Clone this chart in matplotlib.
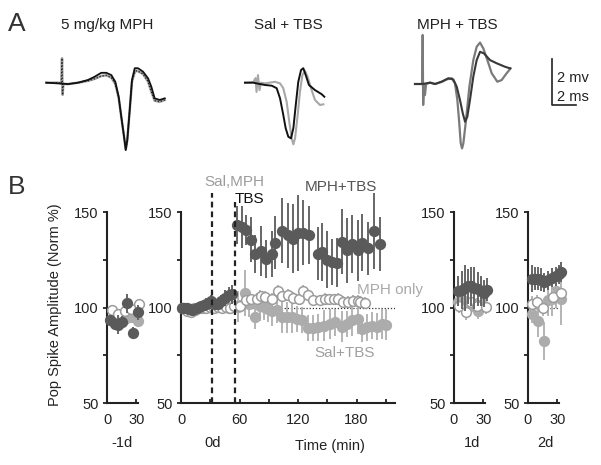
import matplotlib
matplotlib.use('Agg')
import matplotlib.pyplot as plt
import matplotlib.transforms as mtransforms

plt.rcParams['font.family'] = ['Liberation Sans', 'DejaVu Sans']

# ---------------- Panel A: example traces (time in ms, voltage in mV) ----------------
t1_ctrl_t = [0, 0.98, 1.81, 2.64, 3.48, 4.03, 4.58, 5.0, 5.42, 5.75, 6.03, 6.25, 6.48, 6.62, 6.75,
             6.95, 7.14, 7.37, 7.64, 8.06, 8.48, 8.75, 9.03, 9.45, 9.87]
t1_ctrl_v = [0, -0.03, -0.06, 0, 0.12, 0.26, 0.43, 0.43, 0.33, 0.04, -0.61, -1.48, -2.35, -2.93, -2.49,
             -1.19, 0.12, 0.63, 0.63, 0.48, 0.19, -0.17, -0.68, -0.75, -0.68]
t1_mph_t = [0, 0.98, 1.25, 1.31, 1.36, 1.42, 1.81, 2.64, 3.48, 4.03, 4.58, 5.0, 5.42, 5.75, 6.03, 6.25,
            6.48, 6.62, 6.75, 6.95, 7.14, 7.37, 7.5, 7.64, 8.06, 8.48, 8.75, 9.03, 9.45, 9.87]
t1_mph_v = [0, 0.0, -0.03, 1.06, -0.53, -0.05, -0.06, 0, 0.08, 0.17, 0.29, 0.32, 0.22, -0.05, -0.65, -1.5,
            -2.35, -2.9, -2.49, -1.2, 0.05, 0.45, 0.52, 0.5, 0.38, 0.05, -0.39, -0.78, -0.83, -0.75]

t2_pre_t = [0, 0.69, 1.67, 2.23, 2.64, 2.92, 3.19, 3.39, 3.61, 3.83, 4.03, 4.23, 4.44, 4.67, 4.86, 5.06,
            5.33, 5.83, 6.39, 6.61]
t2_pre_v = [0, 0, -0.1, -0.13, -0.24, -0.68, -1.4, -1.98, -2.35, -2.42, -1.98, -0.97, 0.04, 0.55, 0.63,
            0.33, -0.1, -0.32, -0.5, -0.61]
t2_post_t = [0, 0.69, 0.88, 0.96, 1.08, 1.21, 1.33, 1.67, 2.5, 2.92, 3.19, 3.47, 3.69, 3.89, 4.03, 4.17,
             4.39, 4.58, 4.78, 5.0, 5.22, 5.5, 5.83, 6.25, 6.53]
t2_post_v = [0, 0.03, 0.2, -0.4, 0.33, -0.32, 0, -0.03, 0.04, -0.03, -0.24, -0.83, -1.7, -2.42, -2.68,
             -2.42, -1.4, -0.39, 0.33, 0.51, 0.26, -0.24, -0.75, -0.97, -0.94]

t3_pre_t = [0, 0.56, 0.98, 1.25, 1.67, 2.23, 2.78, 3.19, 3.48, 3.75, 3.98, 4.17, 4.36, 4.58, 4.86, 5.14,
            5.42, 5.75, 6.25, 6.81, 7.5, 7.92]
t3_pre_v = [0, 0, 0.03, 0.06, 0, 0.1, 0.25, 0.2, -0.12, -0.7, -1.27, -1.64, -1.42, -0.7, 0.32, 1.04,
            1.4, 1.33, 1.04, 0.9, 0.75, 0.68]
t3_post_t = [0, 0.56, 0.6, 0.64, 0.68, 0.75, 0.83, 0.92, 1.25, 1.67, 2.23, 2.64, 3.06, 3.33, 3.53, 3.69,
             3.81, 3.92, 4.03, 4.25, 4.53, 4.86, 5.14, 5.42, 5.69, 6.03, 6.39, 6.86, 7.22, 7.64, 7.97]
t3_post_v = [0, 0, 0, 2.13, -0.91, 0, -0.48, 0, 0.06, 0, 0.1, 0.2, 0.25, 0.03, -0.7, -1.71,
             -2.58, -2.8, -2.58, -1.57, -0.12, 1.04, 1.62, 1.8, 1.55, 1.04, 0.47, 0.1, 0.17, 0.47, 0.68]

trace_titles = ["5 mg/kg MPH", "Sal + TBS", "MPH + TBS"]
scale_ms = 2
scale_mv = 2

# ---------------- Panel B: day 0 (min, % of baseline) ----------------
drug_time = 31.5
tbs_time = 55.5

mphtbs_t = [1, 3.5, 6, 8.5, 11, 13.5, 16, 18.5, 21, 23.5, 26, 28.5, 31, 35, 38, 41.5, 45, 49, 52,
            57.1, 62.2, 66.7, 71.8, 75.9, 82, 86.8, 93, 96.4, 103.9, 110, 115.2, 120.3, 125.5, 131.3,
            140.2, 144.3, 149.4, 154.5, 160.3, 164.8, 170, 175, 181.2, 186, 192.1, 197.9, 204.1]
mphtbs_v = [100, 99.5, 99.5, 99, 98.6, 99, 99.8, 100.5, 101, 101.5, 102, 102.5, 103.3, 102, 102, 103.5,
            105, 106.8, 107,
            143.2, 142.3, 140.5, 135.6, 128.2, 129.6, 125.6, 127.9, 133.9, 140.2, 137.9, 136.1, 139.1,
            139.1, 137.9, 128.2, 129.1, 125.1, 123.9, 123.5, 134.4, 130, 133.2, 130, 133.9, 130.9,
            140.2, 133.2]
mphtbs_e = [2, 2, 2, 2, 2, 2, 2, 2, 2, 2, 3, 3, 3, 3, 3, 3, 4, 4, 5,
            10, 11, 8, 12, 10, 13, 10, 12, 14, 17, 17, 18, 20, 17, 15, 14, 15, 15, 12, 13, 17, 17,
            15, 16, 15, 14, 20, 14]

saltbs_t = [1, 5, 9, 13, 17, 21, 25, 29, 33, 37, 41, 45, 49, 53,
            58.8, 65.6, 69.7, 75.9, 81, 85.5, 89.6, 93.7, 98.1, 103.2, 108.4, 114.2, 118.6, 123.8,
            130.6, 135.7, 140.9, 147, 152.8, 158, 164.8, 170, 175, 181.2, 185.3, 190.5, 195.6, 200.7,
            205.8, 210]
saltbs_v = [100, 99.5, 99, 99.5, 100, 100.5, 100, 101, 100, 100.5, 101, 100.5, 100, 100.5,
            100.5, 107.5, 101.9, 94.9, 101, 100.5, 99.3, 98.4, 98.8, 94.9, 94.9, 94.9, 94, 93.5,
            89.3, 89.3, 89.6, 90.5, 91.4, 92.3, 90, 91.4, 93.2, 94, 88.8, 89.6, 90.5, 90, 91.4, 91]
saltbs_e = [2, 2, 2, 2, 2, 2, 2, 2, 2, 2, 2, 2, 2, 2,
            8, 12, 7, 6, 8, 7, 7, 8, 7, 8, 8, 8, 7, 7, 7, 7, 7, 8, 8, 7, 8, 7, 8, 8, 7, 7, 7, 7,
            8, 8]

mphonly_t = [2, 6, 10, 14, 18, 22, 26, 30, 34, 38, 42, 46, 50, 54,
             60, 66.7, 71.8, 77.6, 82, 86.2, 93, 99.8, 103.9, 110, 115.2, 121, 125.5, 129.9, 135.7,
             142.6, 147.7, 151.8, 157.3, 161.4, 166.5, 171.6, 176.8, 181.2, 183.6, 188.7]
mphonly_v = [99.5, 98, 97.5, 98.5, 99.5, 100, 99.5, 100.5, 100, 100.5, 100, 100.5, 100, 101,
             101, 103.7, 104.2, 104.6, 105.8, 105.4, 104.6, 108.9, 105.8, 106.8, 105.1, 104.2, 108.6,
             106.3, 103.7, 103.7, 104.6, 104.2, 104.2, 104.6, 102.8, 102.8, 103.3, 103.3, 102.8, 102.5]
mphonly_e = [2] * 14 + [3] * 26

# ---------------- Panel B: day -1, 1, 2 ----------------
m1_dark_t = [3, 8, 11.3, 15.7, 20.3, 26.3, 31.3]
m1_dark_v = [93.2, 91.4, 91, 92.3, 102.3, 86.7, 97.5]
m1_dark_e = [3, 3, 5, 3, 5, 3, 4]
m1_gray_t = [6.3, 13, 18, 24.7, 32.3]
m1_gray_v = [93.5, 93.2, 94, 94.9, 92.8]
m1_gray_e = [2, 2, 2, 2, 2]
m1_open_t = [4.7, 11.3, 18, 24.7, 33]
m1_open_v = [98.8, 96.7, 98.4, 99.3, 101.6]
m1_open_e = [2, 2, 2, 2, 2]

d1_dark_t = [4.3, 7.7, 11, 14.3, 17.7, 21, 24.3, 27.7, 31, 34.3]
d1_dark_v = [108.6, 109.3, 110.4, 111, 111, 110.4, 109.6, 108.6, 107.5, 109.3]
d1_dark_e = [8, 10, 12, 9, 10, 11, 9, 8, 7, 6]
d1_gray_t = [4.3, 9, 14.3, 19, 24.3, 29]
d1_gray_v = [103, 104, 102.5, 101.5, 98, 102]
d1_gray_e = [4, 4, 4, 4, 4, 4]
d1_open_t = [5.3, 12, 17.7, 24, 33.3]
d1_open_v = [101, 97.5, 102.8, 101, 100.5]
d1_open_e = [4, 4, 4, 4, 4]

d2_dark_t = [3.7, 7, 10.3, 13.7, 16, 20.3, 24.7, 28.7, 32, 34.3]
d2_dark_v = [115.1, 115.1, 115.1, 114.6, 113.3, 114.2, 115.6, 116.3, 117.4, 118.6]
d2_dark_e = [7, 6, 6, 6, 5, 5, 5, 5, 5, 5]
d2_gray_t = [3.7, 10.3, 16, 20.3, 24.7, 28.7, 33.7]
d2_gray_v = [96.7, 92.8, 82.3, 103.7, 104.6, 108.9, 104.6]
d2_gray_e = [5, 8, 10, 8, 9, 9, 14]
d2_open_t = [3.7, 9.3, 15.3, 26, 33.7]
d2_open_v = [101.9, 102.8, 99.8, 105.4, 107.5]
d2_open_e = [4, 4, 4, 4, 4]

# ---------------- figure ----------------
W, H = 601, 465
fig = plt.figure(figsize=(W / 100, H / 100), dpi=100)


def fx(p):
    return p / W


def fy(p):
    return 1 - p / H


# overlay (pixel coordinates) for panel A
ax0 = fig.add_axes([0, 0, 1, 1])
ax0.set_xlim(0, W)
ax0.set_ylim(H, 0)
ax0.axis('off')
PX_MS, PX_MV = 12.0, 23.0


def tf(x0, y0):
    return mtransforms.Affine2D().scale(PX_MS, -PX_MV).translate(x0, y0) + ax0.transData


# trace 1
ax0.plot(t1_mph_t, t1_mph_v, color='#a0a0a0', lw=1.8, transform=tf(46.3, 82.7))
ax0.plot(t1_mph_t, t1_mph_v, color='#222222', lw=0.9, ls=(0, (1, 1.5)), transform=tf(46.3, 82.7))
ax0.plot(t1_ctrl_t, t1_ctrl_v, color='#111111', lw=1.3, transform=tf(46.3, 82.7))
# trace 2
ax0.plot(t2_post_t, t2_post_v, color='#a8a8a8', lw=1.5, transform=tf(245, 82.7))
ax0.plot(t2_pre_t, t2_pre_v, color='#111111', lw=1.4, transform=tf(245, 82.7))
# trace 3
ax0.plot(t3_post_t, t3_post_v, color='#7a7a7a', lw=1.6, transform=tf(415, 84))
ax0.plot(t3_pre_t, t3_pre_v, color='#383838', lw=1.5, transform=tf(415, 84))
# scale bar
ax0.plot([0, 0, scale_ms], [scale_mv, 0, 0], color='#222222', lw=1.2, transform=tf(552, 105))
ax0.text(fx(557), fy(78), f"{scale_mv} mv", transform=fig.transFigure, fontsize=10.5,
         ha='left', va='center', color='#222222')
ax0.text(fx(557), fy(97), f"{scale_ms} ms", transform=fig.transFigure, fontsize=10.5,
         ha='left', va='center', color='#222222')

for title, cx in zip(trace_titles, [107, 288, 457]):
    fig.text(fx(cx), fy(25), title, fontsize=11, ha='center', va='center', color='#222222')

fig.text(fx(8), fy(24), "A", fontsize=19, ha='left', va='center', color='#333333')
fig.text(fx(8), fy(187), "B", fontsize=19, ha='left', va='center', color='#333333')

DARK = dict(mfc='#5a5a5a', mec='#5a5a5a', ecolor='#666666')
GRAY = dict(mfc='#acacac', mec='#acacac', ecolor='#b4b4b4')
OPEN = dict(mfc='white', mec='#9c9c9c', ecolor='#b4b4b4')


def series(ax, t, v, e, sty, z):
    eb = ax.errorbar(t, v, yerr=e, fmt='o', ms=7, mew=1.1, mfc=sty['mfc'], mec=sty['mec'],
                     ecolor=sty['ecolor'], elinewidth=1.4, capsize=0, zorder=z)
    eb[0].set_clip_on(False)
    eb[0].set_zorder(z + 0.5)
    for c in eb[2]:
        c.set_clip_on(False)
        c.set_zorder(z)


def style(ax, xmax, major, minor, ylabels=True):
    ax.set_xlim(0, xmax)
    ax.set_ylim(50, 150)
    ax.patch.set_alpha(0)
    for s in ['top', 'right']:
        ax.spines[s].set_visible(False)
    for s in ['left', 'bottom']:
        ax.spines[s].set_linewidth(1.5)
        ax.spines[s].set_color('#222222')
    ax.set_yticks([50, 100, 150])
    ax.set_yticks([75, 125], minor=True)
    ax.set_xticks(major)
    ax.set_xticks(minor, minor=True)
    ax.tick_params(axis='y', which='both', direction='out', length=3, width=1.3,
                   labelsize=10.5, pad=3, colors='#222222')
    ax.tick_params(axis='x', which='both', direction='in', length=3, width=1.3,
                   labelsize=10.5, pad=7, colors='#222222')


bot = fy(403)
hgt = (403 - 212) / H
ppm = 0.975  # pixels per minute

# day -1
axm1 = fig.add_axes([fx(107), bot, 31 / W, hgt])
style(axm1, 31 / ppm, [0, 30], [])
series(axm1, m1_gray_t, m1_gray_v, m1_gray_e, GRAY, 3)
series(axm1, m1_open_t, m1_open_v, m1_open_e, OPEN, 4)
series(axm1, m1_dark_t, m1_dark_v, m1_dark_e, DARK, 5)

# day 0
axd0 = fig.add_axes([fx(181), bot, 219 * ppm / W, hgt])
style(axd0, 219, [0, 60, 120, 180], [30, 90, 150, 210])
axd0.axhline(100, color='#333333', lw=0.9, ls=(0, (1, 1.5)), zorder=1)
series(axd0, saltbs_t, saltbs_v, saltbs_e, GRAY, 3)
series(axd0, mphonly_t, mphonly_v, mphonly_e, OPEN, 4)
series(axd0, mphtbs_t, mphtbs_v, mphtbs_e, DARK, 5)
axd0.plot([drug_time, drug_time], [50, 160], color='#222222', lw=1.6, ls=(0, (2.6, 1.8)),
          clip_on=False, zorder=6)
axd0.plot([tbs_time, tbs_time], [50, 155], color='#222222', lw=1.6, ls=(0, (2.6, 1.8)),
          clip_on=False, zorder=6)

# day 1
axd1 = fig.add_axes([fx(454), bot, 31 / W, hgt])
style(axd1, 31 / ppm, [0, 30], [])
axd1.axhline(100, color='#333333', lw=0.9, ls=(0, (1, 1.5)), zorder=1)
series(axd1, d1_gray_t, d1_gray_v, d1_gray_e, GRAY, 3)
series(axd1, d1_open_t, d1_open_v, d1_open_e, OPEN, 4)
series(axd1, d1_dark_t, d1_dark_v, d1_dark_e, DARK, 5)

# day 2
axd2 = fig.add_axes([fx(528), bot, 31 / W, hgt])
style(axd2, 31 / ppm, [0, 30], [])
axd2.axhline(100, color='#333333', lw=0.9, ls=(0, (1, 1.5)), zorder=1)
series(axd2, d2_gray_t, d2_gray_v, d2_gray_e, GRAY, 3)
series(axd2, d2_open_t, d2_open_v, d2_open_e, OPEN, 4)
series(axd2, d2_dark_t, d2_dark_v, d2_dark_e, DARK, 5)

# texts
fig.text(fx(55), fy(305), "Pop Spike Amplitude (Norm %)", rotation=90, fontsize=10.5,
         ha='center', va='center', color='#222222')
fig.text(fx(122), fy(443), "-1d", fontsize=10.5, ha='center', va='center', color='#222222')
fig.text(fx(213), fy(443), "0d", fontsize=10.5, ha='center', va='center', color='#222222')
fig.text(fx(330), fy(446), "Time (min)", fontsize=10.5, ha='center', va='center', color='#222222')
fig.text(fx(472), fy(443), "1d", fontsize=10.5, ha='center', va='center', color='#222222')
fig.text(fx(545), fy(443), "2d", fontsize=10.5, ha='center', va='center', color='#222222')

fig.text(fx(234), fy(182), "Sal,MPH", fontsize=11, ha='center', va='center', color='#9c9c9c')
fig.text(fx(235), fy(199), "TBS", fontsize=11, ha='left', va='center', color='#111111')
fig.text(fx(341), fy(187), "MPH+TBS", fontsize=11, ha='center', va='center', color='#555555')
fig.text(fx(390), fy(290), "MPH only", fontsize=11, ha='center', va='center', color='#aaaaaa')
fig.text(fx(345), fy(353), "Sal+TBS", fontsize=11, ha='center', va='center', color='#a0a0a0')

fig.savefig('out.png', dpi=100)
